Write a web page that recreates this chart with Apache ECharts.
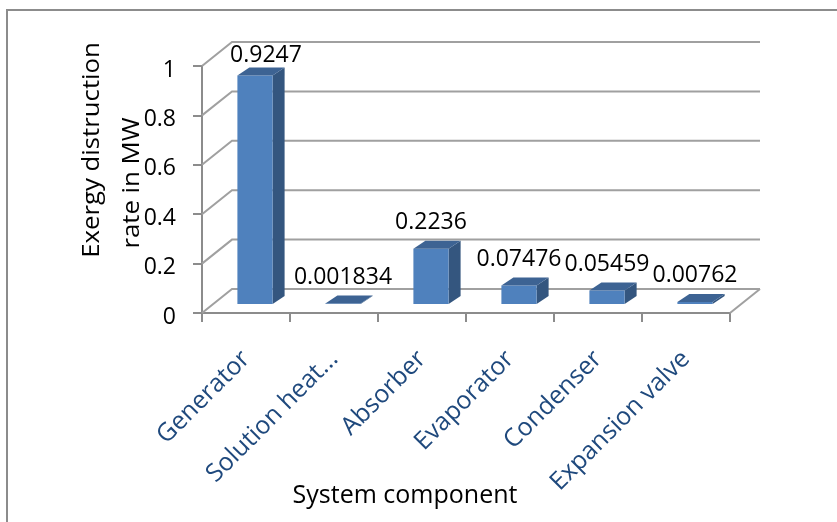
<!DOCTYPE html>
<html>
<head>
<meta charset="utf-8">
<script src="https://cdn.jsdelivr.net/npm/echarts@6/dist/echarts.min.js"></script>
<style>
  html, body { margin: 0; padding: 0; background: #ffffff; }
  #chart { width: 837px; height: 522px; }
</style>
</head>
<body>
<div id="chart"></div>
<script>
// Exergy destruction per component (MW)
const categories = ['Generator', 'Solution heat...', 'Absorber', 'Evaporator', 'Condenser', 'Expansion valve'];
const destruction = [0.9247, 0.001834, 0.2236, 0.07476, 0.05459, 0.00762];
const yTicks = [0, 0.2, 0.4, 0.6, 0.8, 1];

// Pseudo-3D layout (pixels)
const DEPTH_X = 30, DEPTH_Y = -24;     // back wall offset from the front plane
const BAR_X = 9, BAR_Y = -9;           // bar front face offset into the box
const EXT_X = 12, EXT_Y = -8;          // bar extrusion
const labelNudge = [[11, 6], [0, 0], [0, 0], [0, 0], [0, 0], [0, 0]];

const FONT = '"Open Sans", "Noto Sans", sans-serif';
const GRID_COLOR = '#a0a0a0';
const AXIS_COLOR = '#8c8c8c';

function renderWall(params, api) {
  const v = api.value(1);
  const band = api.size([1, 0])[0];
  const first = api.coord([0, v]);
  const last = api.coord([categories.length - 1, v]);
  const xL = first[0] - band / 2;
  const xR = last[0] + band / 2;
  const y = first[1];
  const children = [{
    type: 'polyline',
    shape: { points: [[xL, y], [xL + DEPTH_X, y + DEPTH_Y], [xR + DEPTH_X, y + DEPTH_Y]] },
    style: { stroke: GRID_COLOR, lineWidth: 2, fill: null }
  }];
  if (v === 0) {
    children.push({
      type: 'line',
      shape: { x1: xR, y1: y, x2: xR + DEPTH_X, y2: y + DEPTH_Y },
      style: { stroke: GRID_COLOR, lineWidth: 2 }
    });
  }
  return { type: 'group', children: children };
}

function renderBar(params, api) {
  const i = api.value(0);
  const v = api.value(1);
  const band = api.size([1, 0])[0];
  const w = band * 0.4;
  const base = api.coord([i, 0]);
  const top = api.coord([i, v]);
  const cx = base[0] + BAR_X;
  const yb = base[1] + BAR_Y;
  const yt = top[1] + BAR_Y;
  const xl = cx - w / 2, xr = cx + w / 2;
  const nudge = labelNudge[params.dataIndex];
  return {
    type: 'group',
    children: [
      {
        type: 'polygon',
        shape: { points: [[xr, yt], [xr + EXT_X, yt + EXT_Y], [xr + EXT_X, yb + EXT_Y], [xr, yb]] },
        style: { fill: '#34567f' }
      },
      {
        type: 'polygon',
        shape: { points: [[xl, yb], [xl, yt], [xr, yt], [xr, yb]] },
        style: { fill: '#4f81bd' }
      },
      {
        type: 'polygon',
        shape: { points: [[xl, yt], [xr, yt], [xr + EXT_X, yt + EXT_Y], [xl + EXT_X, yt + EXT_Y]] },
        style: { fill: '#3d6393' }
      },
      {
        type: 'text',
        style: {
          text: String(v),
          x: cx + nudge[0],
          y: yt + EXT_Y - 7 + nudge[1],
          align: 'center',
          verticalAlign: 'bottom',
          fontSize: 23,
          fontFamily: FONT,
          fill: '#000000'
        }
      }
    ]
  };
}

const chart = echarts.init(document.getElementById('chart'), null, { renderer: 'canvas' });

chart.setOption({
  animation: false,
  backgroundColor: '#ffffff',
  grid: { left: 202, right: 107, top: 66, bottom: 209, containLabel: false },
  xAxis: {
    type: 'category',
    data: categories,
    boundaryGap: true,
    axisLine: { show: true, lineStyle: { color: AXIS_COLOR, width: 2 } },
    axisTick: { show: true, length: 9, lineStyle: { color: AXIS_COLOR, width: 2 } },
    axisLabel: {
      interval: 0,
      rotate: 45,
      margin: 42,
      color: '#1f497d',
      fontSize: 25,
      fontFamily: FONT
    },
    splitLine: { show: false }
  },
  yAxis: {
    type: 'value',
    min: 0,
    max: 1,
    interval: 0.2,
    axisLine: { show: true, lineStyle: { color: AXIS_COLOR, width: 2 } },
    axisTick: { show: true, length: 9, lineStyle: { color: AXIS_COLOR, width: 2 } },
    axisLabel: {
      margin: 26,
      color: '#000000',
      fontSize: 23,
      fontFamily: FONT,
      verticalAlign: 'top',
      lineHeight: 8
    },
    splitLine: { show: false }
  },
  series: [
    {
      type: 'custom',
      name: 'walls',
      silent: true,
      z: 1,
      renderItem: renderWall,
      encode: { x: 0, y: 1 },
      data: yTicks.map(function (t) { return [0, t]; })
    },
    {
      type: 'custom',
      name: 'Exergy destruction',
      z: 3,
      renderItem: renderBar,
      encode: { x: 0, y: 1 },
      data: destruction.map(function (v, i) { return [i, v]; })
    }
  ],
  graphic: [
    {
      type: 'polyline',
      silent: true,
      shape: { points: [[7, 522], [7, 10], [837, 10]] },
      style: { stroke: '#8c8c8c', lineWidth: 2, fill: null }
    },
    {
      type: 'text',
      x: 92, y: 150,
      rotation: Math.PI / 2,
      scaleX: 1.12,
      style: {
        text: 'Exergy distruction',
        align: 'center', verticalAlign: 'middle',
        fontSize: 23, fontFamily: FONT, fill: '#000000'
      }
    },
    {
      type: 'text',
      x: 132, y: 183,
      rotation: Math.PI / 2,
      scaleX: 1.12,
      style: {
        text: 'rate in MW',
        align: 'center', verticalAlign: 'middle',
        fontSize: 23, fontFamily: FONT, fill: '#000000'
      }
    },
    {
      type: 'text',
      x: 405, y: 496,
      style: {
        text: 'System component',
        align: 'center', verticalAlign: 'middle',
        fontSize: 25, fontFamily: FONT, fill: '#000000'
      }
    }
  ]
});
</script>
</body>
</html>
